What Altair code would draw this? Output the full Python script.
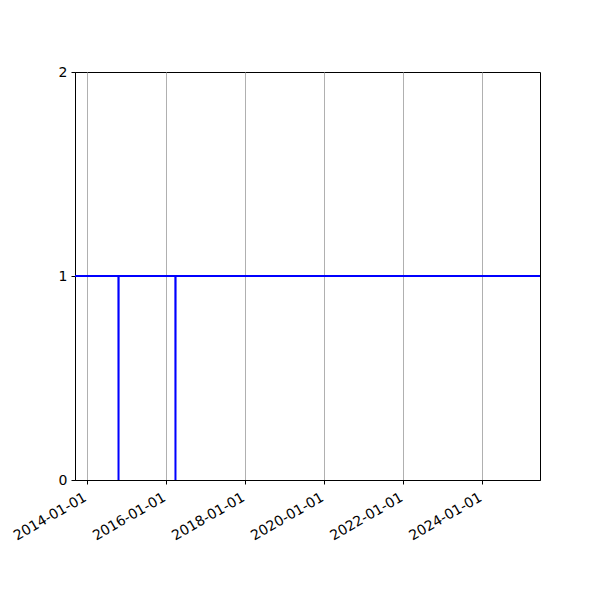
import altair as alt
import pandas as pd

dates = ["2013-09-16", "2014-10-22", "2014-10-23", "2014-10-24",
         "2016-03-31", "2016-04-01", "2016-04-02", "2025-06-20"]
values = [1, 1, 0, 1, 1, 0, 1, 1]
tick_years = [2014, 2016, 2018, 2020, 2022, 2024]
y_ticks = [0, 1, 2]

df = pd.DataFrame({"date": dates, "value": values})

x_axis = alt.Axis(
    values=[alt.DateTime(year=y, month=1, date=1, utc=True) for y in tick_years],
    labelExpr="utcFormat(datum.value, '%Y-%m-%d')",
    labelAngle=-30, labelAlign="right", labelBaseline="top",
    labelFont="DejaVu Sans", labelFontSize=14, labelColor="black",
    labelOverlap=False, labelFlush=False, labelOffset=-5,
    tickColor="black", tickSize=4, domainColor="black",
    grid=True, gridColor="#b0b0b0", gridWidth=1, title=None, labelPadding=6,
)
y_axis = alt.Axis(
    values=y_ticks, labelExpr="format(datum.value, 'd')",
    labelFont="DejaVu Sans", labelFontSize=14, labelColor="black",
    labelOverlap=False, labelFlush=False,
    tickColor="black", tickSize=4, domainColor="black",
    grid=False, title=None, labelPadding=4,
)

chart = alt.Chart(df).mark_line(color="blue", strokeWidth=2, interpolate="linear").encode(
    x=alt.X("date:T", axis=x_axis,
            scale=alt.Scale(type="utc",
                            domain=[alt.DateTime(year=2013, month=9, date=16, utc=True),
                                    alt.DateTime(year=2025, month=6, date=20, utc=True)])),
    y=alt.Y("value:Q", axis=y_axis, scale=alt.Scale(domain=[0, 2], nice=False)),
).properties(
    width=465, height=408,
    autosize=alt.AutoSizeParams(type="none"),
    padding={"left": 67, "top": 64, "right": 52, "bottom": 112},
).configure_view(stroke="black", strokeWidth=1)

chart.save("out.html", embed_options={"renderer": "svg", "actions": False})
